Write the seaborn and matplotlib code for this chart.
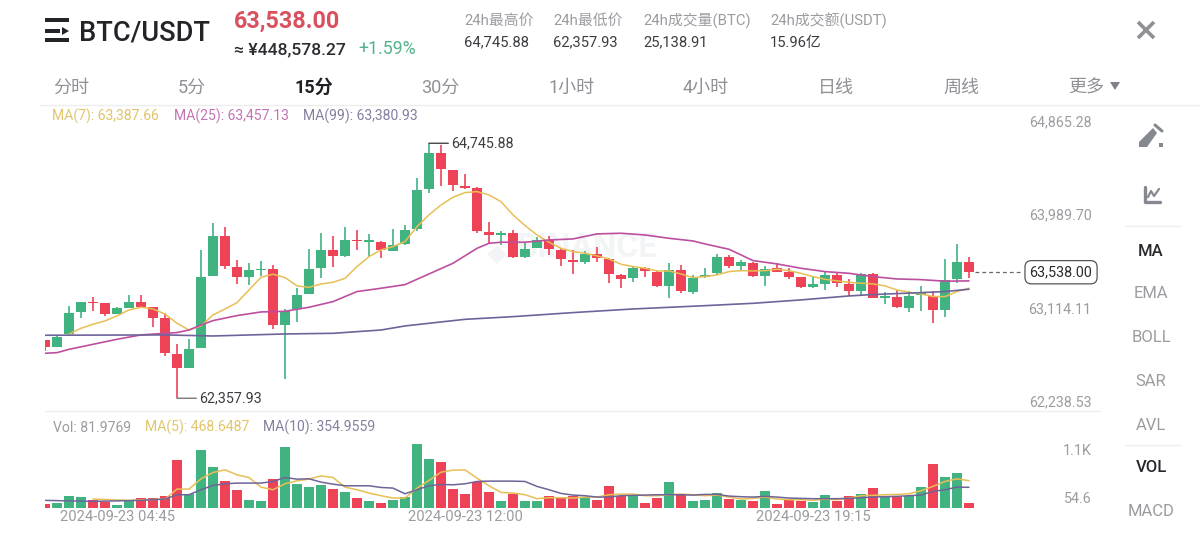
# BTC/USDT 15m candlestick screen
import matplotlib
matplotlib.use('Agg')
import matplotlib.pyplot as plt
from matplotlib.patches import Polygon, Rectangle
import numpy as np
import pandas as pd
import seaborn as sns

opens = [62904, 62835, 62960, 63163, 63263, 63247, 63147, 63207, 63260, 63210, 63107, 62773, 62645, 62826, 63503, 63878, 63591, 63497, 63559, 63572,
         63044, 63191, 63332, 63578, 63744, 63691, 63844, 63825, 63825, 63741, 63800, 63940, 64315, 64658, 64496, 64349, 64324, 63915, 63887, 63906,
         63681, 63765, 63840, 63747, 63653, 63637, 63712, 63666, 63516, 63481, 63581, 63544, 63413, 63563, 63357, 63491, 63528, 63678, 63600, 63628,
         63507, 63575, 63538, 63491, 63400, 63432, 63513, 63429, 63360, 63519, 63301, 63310, 63207, 63329, 63316, 63185, 63475, 63638]
closes = [62835, 62929, 63154, 63257, 63250, 63147, 63200, 63260, 63216, 63113, 62779, 62645, 62820, 63497, 63878, 63600, 63497, 63556, 63572, 63044,
          63175, 63325, 63572, 63744, 63691, 63837, 63828, 63837, 63747, 63794, 63934, 64309, 64658, 64502, 64356, 64331, 63922, 63887, 63909, 63681,
          63759, 63840, 63753, 63659, 63637, 63709, 63675, 63522, 63478, 63581, 63550, 63410, 63559, 63360, 63488, 63513, 63678, 63600, 63632, 63507,
          63569, 63544, 63494, 63397, 63429, 63513, 63435, 63363, 63522, 63301, 63313, 63210, 63316, 63341, 63185, 63466, 63638, 63538]
highs = [62904, 62951, 63222, 63257, 63310, 63247, 63216, 63322, 63322, 63216, 63160, 62863, 62910, 63747, 63997, 63965, 63653, 63622, 63647, 63606,
         63197, 63388, 63756, 63903, 63878, 63959, 63934, 63893, 63834, 63943, 63981, 64424, 64745.88, 64730, 64496, 64455, 64334, 64012, 63928, 63934,
         63825, 63872, 63878, 63762, 63747, 63737, 63772, 63672, 63522, 63591, 63591, 63550, 63622, 63606, 63513, 63575, 63706, 63697, 63653, 63638,
         63597, 63622, 63575, 63497, 63504, 63544, 63528, 63472, 63535, 63528, 63357, 63372, 63366, 63413, 63363, 63660, 63803, 63685]
lows = [62804, 62835, 62951, 63107, 63179, 63132, 63147, 63200, 63210, 63022, 62754, 62357.93, 62638, 62826, 63503, 63569, 63425, 63419, 63506, 63007,
        62535, 63076, 63332, 63481, 63591, 63684, 63747, 63694, 63675, 63737, 63794, 63928, 64277, 64346, 64302, 64315, 63903, 63809, 63794, 63675,
        63675, 63762, 63697, 63600, 63522, 63616, 63637, 63435, 63394, 63444, 63497, 63397, 63294, 63341, 63335, 63482, 63513, 63582, 63560, 63497,
        63413, 63538, 63472, 63388, 63394, 63372, 63397, 63316, 63326, 63294, 63238, 63201, 63169, 63179, 63060, 63123, 63435, 63482]
volumes = [68, 86, 205, 188, 143, 103, 51, 125, 165, 171, 211, 827, 239, 998, 707, 456, 314, 137, 125, 502,
           1043, 416, 365, 388, 331, 268, 165, 125, 91, 143, 182, 1100, 838, 798, 325, 245, 445, 268, 114, 239,
           114, 114, 200, 188, 200, 182, 137, 382, 211, 200, 86, 165, 445, 239, 125, 143, 251, 160, 143, 120,
           285, 68, 160, 125, 103, 228, 114, 205, 239, 342, 182, 182, 200, 359, 764, 536, 593, 82]

ma7_x = list(range(2, 78))
ma7 = [62960, 63013, 63051, 63082, 63129, 63185, 63210, 63194, 63147, 63060, 62997, 63035, 63138, 63194, 63253, 63372, 63491, 63519, 63488, 63410,
       63397, 63428, 63444, 63481, 63591, 63684, 63747, 63778, 63825, 63965, 64075, 64168, 64240, 64284, 64293, 64262, 64199, 64075, 63975, 63887,
       63819, 63762, 63731, 63716, 63691, 63662, 63613, 63591, 63575, 63550, 63550, 63522, 63488, 63497, 63513, 63544, 63553, 63550, 63553, 63566,
       63553, 63528, 63497, 63472, 63457, 63444, 63435, 63429, 63410, 63372, 63351, 63335, 63310, 63310, 63357, 63388]
ma25_x = [0, 1, 2, 4, 6, 8, 10, 11, 12, 13, 14, 16, 18, 20, 22, 24, 26, 28, 30, 32, 34, 36, 37, 38, 40, 42, 44, 46, 48, 50, 52, 54,
          55, 57, 59, 61, 63, 65, 67, 69, 71, 73, 75, 77]
ma25 = [62779, 62785, 62816, 62863, 62910, 62951, 62966, 62973, 62997, 63044, 63085, 63132, 63166, 63172, 63210, 63263, 63357, 63388, 63422, 63522,
        63622, 63762, 63809, 63819, 63819, 63840, 63850, 63897, 63903, 63887, 63856, 63831, 63803, 63753, 63647, 63616, 63575, 63544, 63528, 63497,
        63475, 63469, 63454, 63457]
ma99_x = [0, 10, 14, 20, 24, 28, 30, 32, 35, 39, 44, 49, 55, 59, 63, 67, 69, 73, 75, 77]
ma99 = [62948, 62951, 62941, 62960, 62966, 62997, 63035, 63060, 63097, 63122, 63160, 63194, 63225, 63247, 63279, 63316, 63329, 63347, 63357, 63379]

vol_ma5_x = [4, 7, 10] + list(range(11, 78))
vol_ma5 = [154, 131, 154, 325, 325, 502, 610, 656, 570, 524, 359, 314, 416, 467, 496, 553, 524, 359, 314, 257,
           211, 171, 171, 342, 473, 616, 650, 656, 513, 382, 268, 257, 228, 160, 177, 177, 171, 188, 188, 228,
           239, 239, 211, 211, 228, 239, 228, 211, 222, 188, 154, 165, 188, 154, 143, 143, 131, 154, 143, 171,
           211, 217, 228, 234, 245, 296, 371, 456, 502, 469]
vol_ma10_x = [0, 4, 8] + list(range(10, 78))
vol_ma10 = [131, 114, 131, 154, 228, 228, 314, 388, 416, 428, 428, 428, 456, 524, 496, 502, 445, 410, 382, 382,
            382, 353, 342, 245, 314, 382, 405, 399, 416, 456, 462, 462, 462, 456, 371, 314, 251, 222, 211, 188,
            188, 211, 217, 222, 228, 228, 228, 222, 234, 234, 205, 194, 188, 200, 188, 171, 165, 160, 160, 160,
            165, 177, 188, 194, 200, 211, 222, 285, 314, 359, 355]

price_ticks = [64865.28, 63989.70, 63114.11, 62238.53]
time_idx = [6, 35, 64]
time_labels = ['2024-09-23 04:45', '2024-09-23 12:00', '2024-09-23 19:15']
tabs = ['分时', '5分', '15分', '30分', '1小时', '4小时', '日线', '周线']
tab_x = [53, 178, 295, 421, 548, 683, 818, 943]
side_items = ['MA', 'EMA', 'BOLL', 'SAR', 'AVL', 'VOL', 'MACD']
side_y = [251, 294, 338, 381, 425, 468, 512]
stat_titles = ['24h最高价', '24h最低价', '24h成交量(BTC)', '24h成交额(USDT)']
stat_values = ['64,745.88', '62,357.93', '25,138.91', '15.96亿']
stat_x = [464, 553, 643, 770]

GREEN = '#41B381'
RED = '#EE4257'
YELLOW = '#E8BF55'
PINK = '#BD4F9F'
PURPLE = '#6F6499'
GRAY = '#9A9CA0'
DARK = '#2A2C30'

sns.set_theme(style='white')
plt.rcParams['font.family'] = ['Roboto', 'Noto Sans CJK SC', 'DejaVu Sans']

W, H = 1200, 540
fig = plt.figure(figsize=(12, 5.4), dpi=100, facecolor='white')

# overlay in pixel units for the app chrome
ui = fig.add_axes([0, 0, 1, 1])
ui.set_xlim(0, W)
ui.set_ylim(H, 0)
ui.axis('off')

ax = fig.add_axes([45 / W, 1 - 411 / H, 1055 / W, 280.5 / H])
ax_vol = fig.add_axes([45 / W, 1 - 508 / H, 1055 / W, 64 / H])
for a in (ax, ax_vol):
    a.patch.set_alpha(0)
    sns.despine(ax=a, left=True, bottom=True, right=True, top=True)
    a.grid(False)

idx = np.arange(len(opens))
opens_a, closes_a = np.array(opens), np.array(closes)
up = closes_a >= opens_a
colors = np.where(up, GREEN, RED)

# faint watermark behind the candles
ui.add_patch(Polygon([(487, 254), (497, 246), (507, 254), (497, 264)], color='#F3F4F6', lw=0))
ui.text(587, 248, 'BINANCE', fontsize=24, fontweight='bold', color='#F3F4F6', ha='center', va='center')

# candles
ax.vlines(idx, lows, highs, colors=colors, lw=1.2, zorder=2)
ax.bar(idx, np.maximum(np.abs(closes_a - opens_a), 12), bottom=np.minimum(opens_a, closes_a),
       width=0.85, color=colors, linewidth=0, zorder=3)

sns.lineplot(x=ma7_x, y=ma7, ax=ax, color=YELLOW, lw=1.1, zorder=4)
sns.lineplot(x=ma25_x, y=ma25, ax=ax, color=PINK, lw=1.2, zorder=4)
sns.lineplot(x=ma99_x, y=ma99, ax=ax, color=PURPLE, lw=1.2, zorder=4)

ax.set_xlim(0, 1055 / 12)
ax.set_ylim(price_ticks[-1], price_ticks[0])
ax.set_xticks([])
ax.set_yticks([])
ax.set_xlabel('')

for v in price_ticks:
    ax.annotate(f'{v:,.2f}', xy=(1, v), xycoords=ax.get_yaxis_transform(), xytext=(-6, 6),
                textcoords='offset points', ha='right', va='center', fontsize=10.3, color=GRAY)

# high / low markers
hi_i, lo_i = int(np.argmax(highs)), int(np.argmin(lows))
ax.annotate(f'{highs[hi_i]:,.2f}', xy=(hi_i, highs[hi_i]), xytext=(hi_i + 1.88, highs[hi_i]), va='center',
            fontsize=10.3, color='#3A3C40', arrowprops=dict(arrowstyle='-', color='#444444', lw=1, shrinkA=0, shrinkB=0))
ax.annotate(f'{lows[lo_i]:,.2f}', xy=(lo_i, lows[lo_i]), xytext=(lo_i + 1.88, lows[lo_i]), va='center',
            fontsize=10.3, color='#3A3C40', arrowprops=dict(arrowstyle='-', color='#777777', lw=1, shrinkA=0, shrinkB=0))

# last price tag
ax.plot([idx[-1] + 0.5, 81.4], [closes[-1], closes[-1]], ls=(0, (3, 2.5)), lw=0.9, color='#666666')
ax.text(84.67, closes[-1], f'{closes[-1]:,.2f}', fontsize=10.4, color='#2A2C30', ha='center', va='center',
        bbox=dict(boxstyle='round,pad=0.32,rounding_size=0.45', fc='white', ec='#555555', lw=0.9))

# volume
vol_df = pd.DataFrame({'idx': idx, 'volume': volumes, 'side': np.where(up, 'up', 'down')})
sns.barplot(data=vol_df, x='idx', y='volume', hue='side', palette={'up': GREEN, 'down': RED}, dodge=False,
            native_scale=True, width=0.85, saturation=1, legend=False, linewidth=0, ax=ax_vol, zorder=2)
sns.lineplot(x=vol_ma5_x, y=vol_ma5, ax=ax_vol, color=YELLOW, lw=1.1, zorder=4)
sns.lineplot(x=vol_ma10_x, y=vol_ma10, ax=ax_vol, color=PURPLE, lw=1.1, zorder=4)
ax_vol.set_xlim(0, 1055 / 12)
ax_vol.set_ylim(0, 1100)
ax_vol.set_xlabel('')
ax_vol.set_ylabel('')
ax_vol.set_yticks([])
ax_vol.set_xticks(time_idx)
ax_vol.set_xticklabels(time_labels, fontsize=10.6, color=GRAY)
ax_vol.tick_params(axis='x', length=0, pad=1.5)
ax_vol.annotate('1.1K', xy=(1, 1100), xycoords=ax_vol.get_yaxis_transform(), xytext=(-6, -5), textcoords='offset points',
                ha='right', va='center', fontsize=10.3, color=GRAY, annotation_clip=False)
ax_vol.annotate('54.6', xy=(1, 54.6), xycoords=ax_vol.get_yaxis_transform(), xytext=(-6, 4.5), textcoords='offset points',
                ha='right', va='center', fontsize=10.3, color=GRAY, annotation_clip=False)

# legends
ui.text(52, 116.5, 'MA(7): 63,387.66', fontsize=10.1, color='#E0C56A', va='center')
ui.text(174, 116.5, 'MA(25): 63,457.13', fontsize=10.1, color='#C374B3', va='center')
ui.text(303, 116.5, 'MA(99): 63,380.93', fontsize=10.1, color='#85809F', va='center')
ui.text(53, 427.5, 'Vol: 81.9769', fontsize=10.1, color=GRAY, va='center')
ui.text(145, 427.5, 'MA(5): 468.6487', fontsize=10.1, color='#E0C56A', va='center')
ui.text(263, 427.5, 'MA(10): 354.9559', fontsize=10.1, color='#85809F', va='center')

# header
ui.add_patch(Rectangle((45, 18), 24, 4, color='#222428', lw=0))
ui.add_patch(Rectangle((45, 29), 15, 4, color='#222428', lw=0))
ui.add_patch(Polygon([(62, 27), (62, 35), (69, 31)], color='#222428', lw=0))
ui.add_patch(Rectangle((45, 38), 24, 4, color='#222428', lw=0))
ui.text(79, 33, 'BTC/USDT', fontsize=19.6, color='#222428', fontweight='medium', va='center')
ui.text(234, 21, '63,538.00', fontsize=16.8, color='#D9505F', fontweight='bold', va='center')
ui.text(234, 49.5, '≈ ¥448,578.27', fontsize=12.6, color=DARK, fontweight='medium', va='center')
ui.text(358, 49.5, '+1.59%', fontsize=12.8, color='#52B48A', va='center')
for x, t, v in zip(stat_x, stat_titles, stat_values):
    ui.text(x, 20.5, t, fontsize=10.7, color=GRAY, va='center')
    ui.text(x, 42.5, v, fontsize=10.6, color='#3A3C40', va='center')
ui.plot([1138, 1154], [22, 38], color='#8E9095', lw=2.6, solid_capstyle='butt')
ui.plot([1154, 1138], [22, 38], color='#8E9095', lw=2.6, solid_capstyle='butt')

# tabs
for x, t in zip(tab_x, tabs):
    active = t == '15分'
    ui.text(x, 88, t, fontsize=13, color='#1E2024' if active else '#8F9196',
            fontweight='bold' if active else 'normal', va='center')
ui.text(1068, 88, '更多', fontsize=13, color='#8F9196', va='center')
ui.add_patch(Polygon([(1110, 82), (1120, 82), (1115, 90)], color='#7E8085', lw=0))
ui.plot([40, 1200], [105, 105], color='#EEEEEE', lw=1)
ui.plot([45, 1100], [411, 411], color='#EEEEEE', lw=1)

# right side menu
ui.add_patch(Polygon([(1139, 147), (1139, 142), (1153, 128), (1157, 133), (1147, 147)], color='#858890', lw=0))
ui.plot([1155, 1162], [125, 131], color='#858890', lw=2.2)
ui.add_patch(Rectangle((1159, 143), 4, 4, color='#858890', lw=0))
ui.plot([1145, 1145, 1160], [187, 202, 202], color='#858890', lw=2.4)
ui.plot([1148, 1151, 1154, 1159], [197, 191, 196, 189], color='#858890', lw=1.6)
ui.plot([1125, 1180], [226, 226], color='#EEEEEE', lw=1)
ui.plot([1125, 1180], [445, 445], color='#EEEEEE', lw=1)
for y, t in zip(side_y, side_items):
    active = t in ('MA', 'VOL')
    ui.text(1151, y, t, fontsize=12, color='#26282C' if active else GRAY,
            fontweight='medium' if active else 'normal', ha='center', va='center')

fig.savefig('out.png', dpi=100)
